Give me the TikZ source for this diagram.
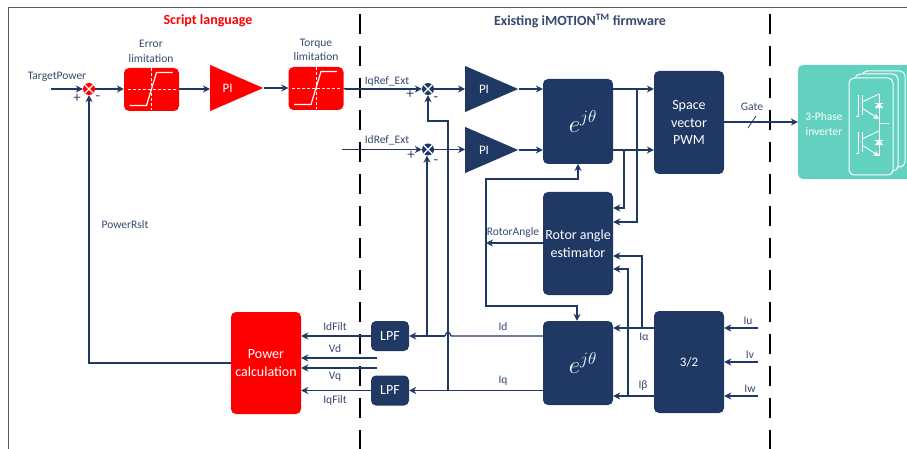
\documentclass[tikz,border=0pt]{standalone}
\usepackage{fontspec}
\setmainfont{Carlito}
\usetikzlibrary{shapes.geometric,arrows.meta,positioning,calc}
\definecolor{navy}{RGB}{31, 56, 100}
\definecolor{labelblue}{RGB}{52, 72, 110}
\definecolor{scriptred}{RGB}{255, 0, 0}
\definecolor{invteal}{RGB}{98, 209, 191}
\definecolor{framegray}{RGB}{90, 90, 90}

\begin{document}
\begin{tikzpicture}[
  x=1pt, y=-1pt,
  >={Stealth[length=7pt,width=7pt]},
  block/.style={
    fill=navy,
    rounded corners=5pt,
    text=white,
    align=center,
    inner sep=0pt,
    font=\fontsize{14}{17.5}\selectfont
  },
  redblock/.style={block, fill=scriptred},
  limiter/.style={redblock, minimum width=55pt, minimum height=43pt},
  rotation/.style={block, minimum width=70pt, font=\fontsize{26}{28}\selectfont},
  gain/.style={
    isosceles triangle,
    isosceles triangle stretches,
    fill=navy,
    text=white,
    inner sep=0pt,
    minimum width=46pt,
    minimum height=53pt,
    anchor=lower side,
    font=\fontsize{13}{15}\selectfont
  },
  junction/.style={
    circle,
    fill=navy,
    inner sep=0pt,
    minimum size=12pt,
    path picture={
      \draw[white, line width=1.2pt] (path picture bounding box.north east) -- (path picture bounding box.south west);
      \draw[white, line width=1.2pt] (path picture bounding box.north west) -- (path picture bounding box.south east);
    }
  },
  wire/.style={draw=navy, line width=1.2pt},
  barrier/.style={line width=2.8pt, dash pattern=on 20pt off 12pt},
  tag/.style={text=labelblue, inner sep=0pt, align=center, font=\fontsize{11.5}{14.5}\selectfont},
  signtag/.style={tag, font=\fontsize{15}{15}\selectfont},
  card/.style={draw=white, line width=1pt, fill=invteal, rounded corners=5pt},
  limitcurve/.pic={
    \draw[white, densely dashed, line width=0.6pt] (-24,0) -- (24,0);
    \draw[white, densely dashed, line width=0.6pt] (0,-21) -- (0,21);
    \draw[white, line width=1.2pt] (-22,16) -- (-5,16) -- (5,-17) -- (21,-17);
  },
  igbt/.pic={
    \draw[white, line width=0.9pt] (-4,21) -- (-2,21) -- (-2,0);
    \draw[white, line width=0.9pt] (2,0) -- (2,20);
    \draw[white, line width=0.9pt] (2,7) -- (19,-1);
    \draw[white, line width=0.9pt, -{Stealth[length=6pt,width=6pt]}] (2,13) -- (19,24);
    \draw[white, fill=white] (15,13) -- (23,13) -- (19,8) -- cycle;
    \draw[white, line width=0.9pt] (15,8) -- (23,8);
  }
]

  \clip (0,0) rectangle (907,449);

  % Frame and region boundaries
  \draw[framegray, line width=0.8pt] (8.5,449) -- (8.5,7) -- (907,7);
  \draw[barrier] (360,14) -- (360,449);
  \draw[barrier] (770,14) -- (770,449);

  % Titles
  \node[text=scriptred, inner sep=0pt, font=\fontsize{14}{16}\selectfont\bfseries] (titlescript) at (208,21) {Script language};
  \node[text=labelblue, inner sep=0pt, font=\fontsize{14}{16}\selectfont\bfseries] (titlefw) at (580,21) {Existing iMOTION\textsuperscript{TM} firmware};

  % Script language side
  \node[junction, fill=scriptred] (sumpower) at (89,89) {};
  \coordinate (targetin) at (51,89);
  \node[limiter] (errlim) at (151.5,89.5) {};
  \pic at (errlim) {limitcurve};
  \node[gain, fill=scriptred] (pipower) at (210,88) {\hspace*{4pt}PI};
  \node[limiter] (torqlim) at (316,88.5) {};
  \pic at (torqlim) {limitcurve};
  \node[redblock, minimum width=70pt, minimum height=102pt] (powercalc) at (266,363) {Power\\calculation};

  % Firmware side
  \node[junction] (sumq) at (428,89) {};
  \node[junction] (sumd) at (428,149.5) {};
  \coordinate (iqin) at (345,89);
  \coordinate (idin) at (342,149.5);
  \node[gain] (piq) at (465,89) {\hspace*{6pt}PI};
  \node[gain] (pid) at (465,150) {\hspace*{6pt}PI};
  \node[rotation, minimum height=85pt] (parktop) at (578,121.5) {\hspace*{10pt}$e^{j\theta}$};
  \node[block, minimum width=70pt, minimum height=103pt] (svpwm) at (689,122.5) {Space\\vector\\PWM};
  \node[block, minimum width=70pt, minimum height=103pt] (rotor) at (578,243.5) {Rotor angle\\estimator};
  \node[rotation, minimum height=84pt] (parkbot) at (578,363) {\hspace*{10pt}$e^{j\theta}$};
  \node[block, minimum width=70pt, minimum height=102pt, font=\fontsize{13}{15}\selectfont] (clarke) at (689,362) {3/2};
  \node[block, minimum width=38pt, minimum height=30pt] (lpfd) at (390,336) {LPF};
  \node[block, minimum width=38pt, minimum height=30pt] (lpfq) at (390,390.5) {LPF};

  % Inverter
  \node[block, fill=invteal, minimum width=124pt, minimum height=114pt] (inverter) at (860,122) {};
  \draw[card] (862,71) rectangle (905,167);
  \draw[card] (855,74) rectangle (898,171);
  \draw[card] (849,78) rectangle (893,175);
  \pic at (860,95) {igbt};
  \pic at (860,132) {igbt};
  \draw[white, line width=0.9pt] (879,94) -- (879,156);
  \draw[white, line width=0.9pt] (879,123) -- (889,123);
  \node[text=white, inner sep=0pt, align=center, font=\fontsize{11.5}{14.5}\selectfont] (invlabel) at (824,124) {3-Phase\\inverter};

  % Forward path
  \draw[wire, ->] (targetin) -- (sumpower);
  \draw[wire, ->] (sumpower) -- (sumpower -| errlim.west);
  \draw[wire, ->] (errlim.east |- sumpower) -- (pipower.lower side |- sumpower);
  \draw[wire, ->] (pipower.apex) -- (torqlim.west |- pipower.apex);
  \draw[wire] (torqlim.east |- pipower.apex) -- (iqin);
  \draw[wire, ->] (iqin) -- (sumq);
  \draw[wire, ->] (idin) -- (sumd);
  \draw[wire, ->] (sumq) -- (piq.lower side);
  \draw[wire, ->] (sumd) -- (sumd -| pid.lower side);
  \draw[wire, ->] (piq.apex) -- (parktop.west |- piq.apex);
  \draw[wire, ->] (pid.apex) -- (parktop.west |- pid.apex);
  \draw[wire, ->] (parktop.east |- piq.apex) -- (svpwm.west |- piq.apex);
  \draw[wire, ->] (parktop.east |- pid.apex) -- (svpwm.west |- pid.apex);

  % Gate signal
  \coordinate (gatestart) at (svpwm.east |- 0,122);
  \draw[wire, ->] (gatestart) -- (inverter.west |- gatestart);
  \coordinate (gateslash) at (752,122);
  \draw[navy, line width=0.8pt] ($(gateslash)+(-4,6)$) -- ($(gateslash)+(4,-6)$);

  % Rotor angle estimator
  \coordinate (tapv) at (637,89);
  \coordinate (tapw) at (624,150);
  \draw[wire, ->] (tapv) |- (rotor.east |- 0,222);
  \draw[wire, ->] (tapw) |- (rotor.east |- 0,208);
  \coordinate (anglenode) at (486,243);
  \draw[wire, ->] (rotor.west |- anglenode) -- (anglenode);
  \draw[wire, ->] (anglenode) |- (578,179) -- (578,164);
  \draw[wire, ->] (anglenode) |- (577,306) -- (parkbot.north -| 577,0);

  % Current measurement
  \coordinate (inu) at (758,328);
  \coordinate (inv) at (758,362);
  \coordinate (inw) at (758,396);
  \draw[wire, ->] (inu) -- (clarke.east |- inu);
  \draw[wire, ->] (inv) -- (clarke.east |- inv);
  \draw[wire, ->] (inw) -- (clarke.east |- inw);
  \draw[wire, ->] (clarke.west |- inu) -- (parkbot.east |- inu);
  \draw[wire, ->] (clarke.west |- inw) -- (parkbot.east |- inw);
  \draw[wire, ->] (642,328) |- (rotor.east |- 0,256);
  \draw[wire, ->] (628,396) |- (rotor.east |- 0,269);

  % Current feedback
  \coordinate (hopright) at (451,336);
  \coordinate (hopleft) at (445,336);
  \draw[wire] (parkbot.west |- lpfd) -- (hopright) .. controls (450,331) and (446,331) .. (hopleft);
  \draw[wire, ->] (hopleft) -- (lpfd.east);
  \draw[wire, ->] (parkbot.west |- lpfq) -- (lpfq.east);
  \draw[wire, ->] (lpfd.west) -- (powercalc.east |- lpfd);
  \draw[wire, ->] (lpfq.west) -- (powercalc.east |- lpfq);
  \coordinate (vdin) at (377,358);
  \coordinate (vqin) at (377,368);
  \draw[wire, ->] (vdin) -- (powercalc.east |- vdin);
  \draw[wire, ->] (vqin) -- (powercalc.east |- vqin);
  \draw[wire, ->] (427,336) -- (sumd.south -| 427,0);
  \draw[wire, ->] (448,391) |- (428,121) -- (sumq.south);
  \draw[wire, ->] (powercalc.west) -| (sumpower.south);

  % Labels
  \node[tag] (ltarget) at (57,77) {TargetPower};
  \node[signtag] (lplus) at (77,98) {+};
  \node[signtag] (lminus) at (98,98) {-};
  \node[tag] (lerr) at (151,51.5) {Error\\limitation};
  \node[tag] (ltorq) at (316,50) {Torque\\limitation};
  \node[tag] (lrslt) at (125,225) {PowerRslt};
  \node[tag] (liq) at (387,81) {IqRef\_Ext};
  \node[tag] (lid) at (387,140) {IdRef\_Ext};
  \node[signtag] (lqplus) at (410,94) {+};
  \node[signtag] (lqminus) at (436,99) {-};
  \node[signtag] (ldplus) at (411,155) {+};
  \node[signtag] (ldminus) at (436,162) {-};
  \node[tag] (lgate) at (752,107) {Gate};
  \node[tag] (langle) at (513,232) {RotorAngle};
  \node[tag] (lidq) at (503,327) {Id};
  \node[tag] (liqq) at (503,381) {Iq};
  \node[tag] (lalpha) at (644,337) {Iα};
  \node[tag] (lbeta) at (643,386) {Iβ};
  \node[tag] (lu) at (748,321) {Iu};
  \node[tag] (lv) at (750,355) {Iv};
  \node[tag] (lw) at (750,389) {Iw};
  \node[tag] (lidf) at (335,327) {IdFilt};
  \node[tag] (lvd) at (335,349) {Vd};
  \node[tag] (lvq) at (335,377) {Vq};
  \node[tag] (liqf) at (335,400) {IqFilt};

\end{tikzpicture}
\end{document}
